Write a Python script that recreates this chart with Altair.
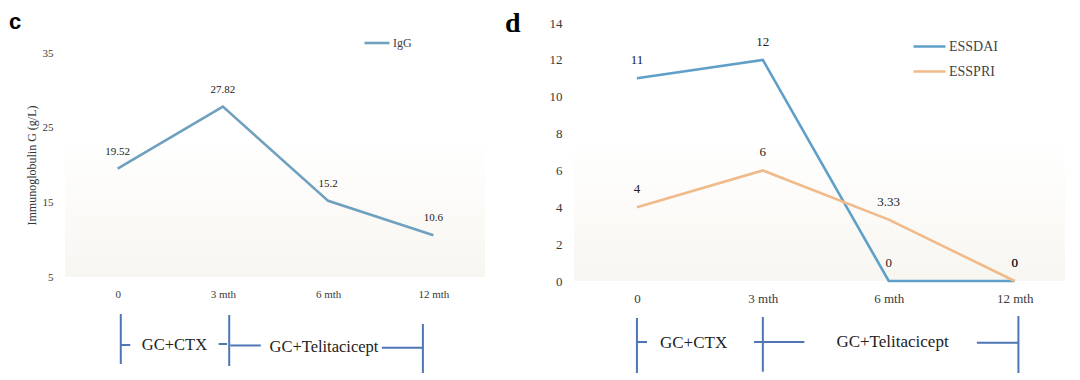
import altair as alt
import pandas as pd

# ---------------- data ----------------
times = ["0", "3 mth", "6 mth", "12 mth"]
igg = [19.52, 27.82, 15.2, 10.6]
essdai = [11, 12, 0, 0]
esspri = [4, 6, 3.33, 0]

# treatment brackets (x in time-index units, y in bracket-strip units 0..10)
left_vbar_x = [0.03, 1.06, 2.90]
left_vbar_y1 = [9.52, 9.35, 7.90]
left_vbar_y2 = [1.45, 1.13, 0.0]
left_hseg_x1 = [0.03, 0.96, 1.07, 2.51]
left_hseg_x2 = [0.12, 1.04, 1.36, 2.90]
left_hseg_y = [4.52, 4.68, 4.44, 4.08]
left_lab_text = ["GC+CTX", "GC+Telitacicept"]
left_lab_x = [0.54, 1.96]
left_lab_y = [4.52, 4.19]

right_vbar_x = [0.0, 1.0, 3.03]
right_vbar_y1 = [8.87, 9.03, 9.19]
right_vbar_y2 = [0.0, 0.21, 0.0]
right_hseg_x1 = [0.0, 0.93, 2.70]
right_hseg_x2 = [0.08, 1.33, 3.03]
right_hseg_y = [5.0, 5.0, 4.89]
right_lab_text = ["GC+CTX", "GC+Telitacicept"]
right_lab_x = [0.45, 2.03]
right_lab_y = [4.84, 5.0]

SERIF = "Liberation Serif, Times New Roman, serif"
BR_COLOR = "#4e76b4"
label_expr = "[" + ",".join("'%s'" % t for t in times) + "][datum.value]"

grad = alt.Gradient(
    gradient="linear",
    stops=[alt.GradientStop(color="#ffffff", offset=0),
           alt.GradientStop(color="#ffffff", offset=0.45),
           alt.GradientStop(color="#f8f6f1", offset=1)],
    x1=0, x2=0, y1=0, y2=1,
)

NOFRAME = alt.ViewBackground(stroke="transparent", strokeWidth=0)


def line_panel(df, xdom, ydom, yvals, width, height, colors, series, title,
               ytitle, tick_fs, lab_fs, lab_dy, legx, legy, sym, leg_fs,
               rowpad):
    xs = alt.Scale(domain=xdom, nice=False, zero=False)
    ys = alt.Scale(domain=ydom, nice=False, zero=False)
    xax = alt.Axis(values=[0, 1, 2, 3], labelExpr=label_expr, domain=False,
                   ticks=False, grid=False, labelFont=SERIF,
                   labelFontSize=tick_fs, labelColor="#3a3a3a",
                   labelPadding=11, title=None)
    yax_kw = dict(values=yvals, domain=False, ticks=False, grid=False,
                  labelFont=SERIF, labelFontSize=tick_fs,
                  labelColor="#3a3a3a", labelPadding=12)
    if ytitle:
        yax = alt.Axis(title=ytitle, titleFont=SERIF, titleFontSize=12,
                       titleFontWeight="normal", titleColor="#333333",
                       titlePadding=4, titleY=142, **yax_kw)
    else:
        yax = alt.Axis(title=None, **yax_kw)

    bg = alt.Chart(pd.DataFrame({"x0": [xdom[0]], "x1": [xdom[1]],
                                 "y0": [ydom[0]], "y1": [ydom[1]]})).mark_rect(
        color=grad, strokeWidth=0).encode(
        x=alt.X("x0:Q", scale=xs, axis=xax),
        x2="x1:Q",
        y=alt.Y("y0:Q", scale=ys, axis=yax),
        y2="y1:Q",
    )
    base = alt.Chart(df).encode(
        x=alt.X("i:Q", scale=xs, axis=xax),
        y=alt.Y("v:Q", scale=ys, axis=yax),
    )
    line = base.mark_line(strokeWidth=2.6).encode(
        color=alt.Color("s:N", scale=alt.Scale(domain=series, range=colors),
                        legend=alt.Legend(orient="none", legendX=legx,
                                          legendY=legy, title=None,
                                          symbolType="stroke",
                                          symbolStrokeWidth=2.6,
                                          symbolSize=sym, labelFont=SERIF,
                                          labelFontSize=leg_fs,
                                          labelColor="#444444",
                                          labelOffset=2, rowPadding=rowpad)),
        detail="s:N",
    )
    text = base.mark_text(dy=lab_dy, font=SERIF, fontSize=lab_fs,
                          color="#222222").encode(
        text=alt.Text("v:Q", format="~g"))
    return alt.layer(bg, line, text).properties(
        width=width, height=height, title=title, view=NOFRAME)


def bracket_panel(xdom, width, vx, vy1, vy2, hx1, hx2, hy, lt, lx, ly, fs):
    xs = alt.Scale(domain=xdom, nice=False, zero=False)
    ys = alt.Scale(domain=[0, 10], nice=False, zero=False)
    v = alt.Chart(pd.DataFrame({"x": vx, "y1": vy1, "y2": vy2})).mark_rule(
        color=BR_COLOR, strokeWidth=2).encode(
        x=alt.X("x:Q", scale=xs, axis=None),
        y=alt.Y("y1:Q", scale=ys, axis=None), y2="y2:Q")
    h = alt.Chart(pd.DataFrame({"x1": hx1, "x2": hx2, "y": hy})).mark_rule(
        color=BR_COLOR, strokeWidth=2).encode(
        x=alt.X("x1:Q", scale=xs, axis=None), x2="x2:Q",
        y=alt.Y("y:Q", scale=ys, axis=None))
    t = alt.Chart(pd.DataFrame({"t": lt, "x": lx, "y": ly})).mark_text(
        font=SERIF, fontSize=fs, color="#222222", baseline="middle").encode(
        x=alt.X("x:Q", scale=xs, axis=None),
        y=alt.Y("y:Q", scale=ys, axis=None), text="t:N")
    return alt.layer(v, h, t).properties(width=width, height=62, view=NOFRAME)


left_df = pd.DataFrame({"i": list(range(4)), "v": igg, "s": ["IgG"] * 4})
right_df = pd.DataFrame({
    "i": list(range(4)) * 2,
    "v": essdai + esspri,
    "s": ["ESSDAI"] * 4 + ["ESSPRI"] * 4,
})

left_title = alt.TitleParams("c", anchor="start", frame="group",
                             font="Liberation Sans", fontSize=22,
                             fontWeight="bold", color="#000000", dx=-56,
                             offset=0, dy=11)
right_title = alt.TitleParams("d", anchor="start", frame="group",
                              font="Liberation Serif", fontSize=28,
                              fontWeight="bold", color="#000000", dx=-69,
                              offset=0, dy=21)

left_line = line_panel(left_df, [-0.5, 3.49], [5, 39.02], [5, 15, 25, 35],
                       420, 254, ["#6fa1bf"], ["IgG"], left_title,
                       "Immunoglobulin  G (g/L)", 11, 11, -17, 298, 6, 625,
                       12, 2)
right_line = line_panel(right_df, [-0.5, 3.4], [0, 14],
                        [0, 2, 4, 6, 8, 10, 12, 14], 491, 258,
                        ["#5fa0c8", "#f0ba8a"], ["ESSDAI", "ESSPRI"],
                        right_title, None, 13, 13, -18, 338, 6, 1024, 14, 0)

left_br = bracket_panel([-0.5, 3.49], 420, left_vbar_x, left_vbar_y1,
                        left_vbar_y2, left_hseg_x1, left_hseg_x2, left_hseg_y,
                        left_lab_text, left_lab_x, left_lab_y, 16.5)
right_br = bracket_panel([-0.5, 3.4], 491, right_vbar_x, right_vbar_y1,
                         right_vbar_y2, right_hseg_x1, right_hseg_x2,
                         right_hseg_y, right_lab_text, right_lab_x,
                         right_lab_y, 17)

chart = alt.concat(
    left_line, right_line, left_br, right_br,
    columns=2, spacing={"row": 30, "column": 89}, bounds="flush",
).resolve_scale(x="independent", y="independent", color="independent"
).properties(
    padding={"left": 1, "top": 2, "right": 0, "bottom": 0}
).configure(
    background="#ffffff",
    view=alt.ViewConfig(stroke="transparent", strokeWidth=0),
)

chart.save("out.html", embed_options={"renderer": "svg", "actions": False})
